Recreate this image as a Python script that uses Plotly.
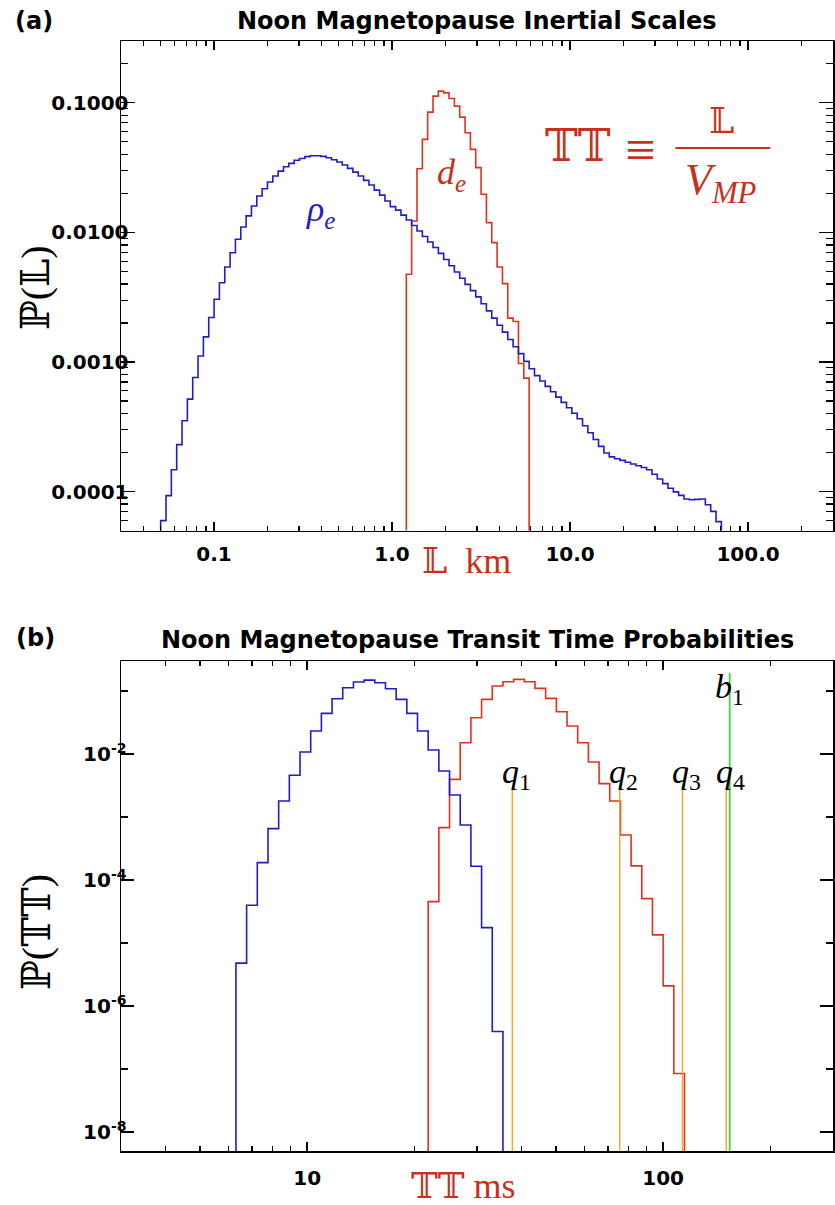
import math
import plotly.graph_objects as go

# ---------------- data ----------------
LOG_BIN = 0.03          # histogram bin width in log10 units

# Panel (a): inertial scales, km
rho_e_log_start = -1.30
rho_e_prob = [
    5.96e-5, 9.29e-5, 1.47e-4, 2.30e-4, 3.52e-4, 5.16e-4, 7.58e-4, 1.11e-3, 1.56e-3, 2.20e-3,
    3.05e-3, 4.09e-3, 5.41e-3, 6.97e-3, 8.85e-3, 0.0110, 0.0134, 0.0160, 0.0191, 0.0217,
    0.0245, 0.0272, 0.0297, 0.0321, 0.0341, 0.0360, 0.0372, 0.0384, 0.0390, 0.0390,
    0.0386, 0.0377, 0.0364, 0.0349, 0.0331, 0.0312, 0.0292, 0.0272, 0.0252, 0.0232,
    0.0212, 0.0194, 0.01745, 0.0158, 0.01485, 0.0136, 0.01247, 0.0113, 0.01025, 0.0093,
    0.00843, 0.00765, 0.00689, 0.00617, 0.00552, 0.00494, 0.00443, 0.00397, 0.00355, 0.00318,
    0.00281, 0.00248, 0.00218, 0.00192, 0.00170, 0.00149, 0.00131, 0.00116, 0.00101, 8.85e-4,
    7.84e-4, 7.13e-4, 6.48e-4, 5.89e-4, 5.35e-4, 4.87e-4, 4.43e-4, 4.02e-4, 3.64e-4, 3.22e-4,
    2.84e-4, 2.52e-4, 2.23e-4, 1.98e-4, 1.85e-4, 1.79e-4, 1.74e-4, 1.68e-4, 1.63e-4, 1.58e-4,
    1.53e-4, 1.47e-4, 1.36e-4, 1.25e-4, 1.15e-4, 1.06e-4, 9.93e-5, 9.33e-5, 8.75e-5, 8.64e-5,
    8.69e-5, 8.75e-5, 7.91e-5, 7.03e-5, 5.85e-5,
]
d_e_log_start = 0.08
d_e_prob = [
    0.00475, 0.01225, 0.0310, 0.0522, 0.0848, 0.1126, 0.123, 0.1194, 0.108, 0.0943,
    0.0776, 0.0587, 0.0437, 0.0316, 0.0197, 0.0119, 0.00833, 0.0054, 0.00402, 0.00218,
    0.00205, 0.000972, 0.00075,
]

# Panel (b): transit times, ms
tt_rho_log_start = 0.80
tt_rho_prob = [
    4.80e-6, 3.99e-5, 1.89e-4, 6.54e-4, 1.80e-3, 4.60e-3, 0.01076, 0.0232, 0.0443, 0.0755,
    0.1128, 0.139, 0.149, 0.1355, 0.1087, 0.0738, 0.0443, 0.0232, 0.01159, 5.38e-3,
    2.24e-3, 7.48e-4, 1.66e-4, 1.76e-5, 3.94e-7,
]
tt_de_log_start = 1.34
tt_de_prob = [
    4.55e-5, 6.79e-4, 3.97e-3, 0.01514, 0.0377, 0.0738, 0.120, 0.1405, 0.1535, 0.1405,
    0.1104, 0.0766, 0.0470, 0.0279, 0.01514, 7.48e-3, 3.39e-3, 1.8e-3, 5.2e-4, 1.68e-4,
    5.07e-5, 1.35e-5, 2.09e-6, 8.49e-8,
]
quantile_ms = [37.7, 75.5, 113.3, 150.4]
quantile_names = ["1", "2", "3", "4"]
quantile_top = 2.9e-3
b1_ms = 153.8
b1_top = 0.195

# tick labels
a_xtickvals = [0.1, 1, 10, 100]
a_xticktext = ["0.1", "1.0", "10.0", "100.0"]
a_ytickvals = [1e-4, 1e-3, 1e-2, 1e-1]
a_yticktext = ["0.0001", "0.0010", "0.0100", "0.1000"]
b_xtickvals = [10, 100]
b_xticktext = ["10", "100"]
b_ytickvals = [1e-8, 1e-6, 1e-4, 1e-2]
b_yticktext = ["10<sup>-8</sup>", "10<sup>-6</sup>", "10<sup>-4</sup>", "10<sup>-2</sup>"]

# ---------------- styling ----------------
W, H = 835, 1205
ML, MR, MT, MB = 121, 0, 41, 54
PW, PH = W - ML - MR, H - MT - MB
FLOOR = 1e-14
BLUE = "#1e1ec8"
RED = "#e3301f"
TXT_RED = "#c5321a"
ORANGE = "#f5a52c"
GREEN = "#3fd63f"
SANS = "DejaVu Sans"
SERIF = "Liberation Serif, DejaVu Serif, DejaVu Sans, serif"


def px(x, y):
    """pixel position -> paper coords"""
    return (x - ML) / PW, (H - MB - y) / PH


def step_xy(log_start, values):
    edges = [10 ** (log_start + LOG_BIN * i) for i in range(len(values) + 1)]
    xs = [edges[0]] + edges[:-1] + [edges[-1]]
    ys = [FLOOR] + list(values) + [FLOOR]
    return xs, ys


def minor_vals(dmin, dmax, lo, hi):
    out = []
    for d in range(dmin, dmax + 1):
        for k in range(2, 10):
            v = k * 10 ** d
            if lo <= v <= hi:
                out.append(v)
    return out


fig = go.Figure()

for log_start, vals, col, xa, ya in [
    (d_e_log_start, d_e_prob, RED, "x", "y"),
    (rho_e_log_start, rho_e_prob, BLUE, "x", "y"),
    (tt_de_log_start, tt_de_prob, RED, "x2", "y2"),
    (tt_rho_log_start, tt_rho_prob, BLUE, "x2", "y2"),
]:
    xs, ys = step_xy(log_start, vals)
    fig.add_trace(go.Scatter(x=xs, y=ys, mode="lines", line=dict(color=col, width=1.6, shape="hv"),
                             xaxis=xa, yaxis=ya, showlegend=False, hoverinfo="skip"))

for q in quantile_ms:
    fig.add_trace(go.Scatter(x=[q, q], y=[FLOOR, quantile_top], mode="lines",
                             line=dict(color=ORANGE, width=1.4), xaxis="x2", yaxis="y2",
                             showlegend=False, hoverinfo="skip"))
fig.add_trace(go.Scatter(x=[b1_ms, b1_ms], y=[FLOOR, b1_top], mode="lines",
                         line=dict(color=GREEN, width=1.8), xaxis="x2", yaxis="y2",
                         showlegend=False, hoverinfo="skip"))

common = dict(type="log", showgrid=False, zeroline=False, showline=True, linecolor="black",
              linewidth=1.5, mirror="ticks", ticks="inside", tickcolor="black", tickwidth=1.3,
              tickmode="array")

top_dom = [(H - MB - 530.5) / PH, 1.0]
bot_dom = [0.0, (H - MB - 661) / PH]


def tf(size):
    return dict(family=SANS, size=size, color="black", weight="bold")


fig.update_layout(
    width=W, height=H, margin=dict(l=ML, r=MR, t=MT, b=MB),
    paper_bgcolor="white", plot_bgcolor="white", showlegend=False,
    xaxis=dict(**common, domain=[0, 1], anchor="y", range=[math.log10(0.03), math.log10(300)],
               tickvals=a_xtickvals, ticktext=a_xticktext, ticklen=9, ticklabelstandoff=5,
               tickfont=tf(20),
               minor=dict(tickmode="array", tickvals=minor_vals(-2, 2, 0.031, 299),
                          ticks="inside", ticklen=5, tickcolor="black", tickwidth=1.2)),
    yaxis=dict(**common, domain=top_dom, anchor="x", range=[math.log10(5e-5), math.log10(0.3)],
               tickvals=a_ytickvals, ticktext=a_yticktext, ticklen=14, ticklabelstandoff=-13,
               tickfont=tf(20),
               minor=dict(tickmode="array", tickvals=minor_vals(-5, -1, 5.1e-5, 0.29),
                          ticks="inside", ticklen=7, tickcolor="black", tickwidth=1.2)),
    xaxis2=dict(**common, domain=[0, 1], anchor="y2", range=[math.log10(3), math.log10(300)],
                tickvals=b_xtickvals, ticktext=b_xticktext, ticklen=9, ticklabelstandoff=8,
                tickfont=tf(20),
                minor=dict(tickmode="array", tickvals=minor_vals(0, 2, 3.1, 299),
                           ticks="inside", ticklen=5, tickcolor="black", tickwidth=1.2)),
    yaxis2=dict(**common, domain=bot_dom, anchor="x2", range=[math.log10(5e-9), math.log10(0.3)],
                tickvals=b_ytickvals, ticktext=b_yticktext, ticklen=13, ticklabelstandoff=-11,
                tickfont=tf(20),
                minor=dict(tickmode="array", tickvals=[1e-7, 1e-5, 1e-3, 1e-1],
                           ticks="inside", ticklen=7, tickcolor="black", tickwidth=1.2)),
)

ann = []


def add_text(text, x, y, size, color="black", family=SERIF, angle=0, weight="normal"):
    xp, yp = px(x, y)
    ann.append(dict(text=text, x=xp, y=yp, xref="paper", yref="paper", showarrow=False,
                    xanchor="center", yanchor="middle", textangle=angle,
                    font=dict(family=family, size=size, color=color, weight=weight)))


add_text("(a)", 34, 21, 24, family=SANS, weight="bold")
add_text("Noon Magnetopause Inertial Scales", 478, 21, 24, family=SANS, weight="bold")
add_text("(b)", 35, 638, 24, family=SANS, weight="bold")
add_text("Noon Magnetopause Transit Time Probabilities", 478, 640, 24, family=SANS, weight="bold")
add_text("ℙ(𝕃)", 36, 288, 40, angle=-90)
add_text("ℙ(𝕋𝕋)", 36, 932, 40, angle=-90)
add_text("𝕃  km", 467, 561, 36, color=TXT_RED)
add_text("𝕋𝕋 ms", 464, 1186, 36, color=TXT_RED)
add_text("<i>ρ</i><sub><i>e</i></sub>", 321, 212, 36, color=BLUE)
add_text("<i>d</i><sub><i>e</i></sub>", 452, 174, 36, color=TXT_RED)
add_text("𝕋𝕋", 579, 146, 44, color=TXT_RED)
add_text("≡", 641, 150, 54, color=TXT_RED)
add_text("𝕃", 723, 121, 36, color=TXT_RED)
add_text("<i>V</i><sub><i>MP</i></sub>", 723, 182, 44, color=TXT_RED)
for q, name in zip(quantile_ms, quantile_names):
    xq = ML + (math.log10(q) - math.log10(3)) / 2 * PW
    add_text("<i>q</i><sub>" + name + "</sub>", xq + 4, 774, 34)
xb = ML + (math.log10(b1_ms) - math.log10(3)) / 2 * PW
add_text("<i>b</i><sub>1</sub>", xb, 689, 34)

x0, y0 = px(677, 148)
x1, _ = px(772, 148)
fig.update_layout(annotations=ann,
                  shapes=[dict(type="line", xref="paper", yref="paper", x0=x0, x1=x1, y0=y0, y1=y0,
                               line=dict(color=TXT_RED, width=2))])

fig.write_html("out.html", config={"displayModeBar": False, "staticPlot": True},
               post_script="document.body.style.margin='0px';document.body.style.overflow='hidden';")
